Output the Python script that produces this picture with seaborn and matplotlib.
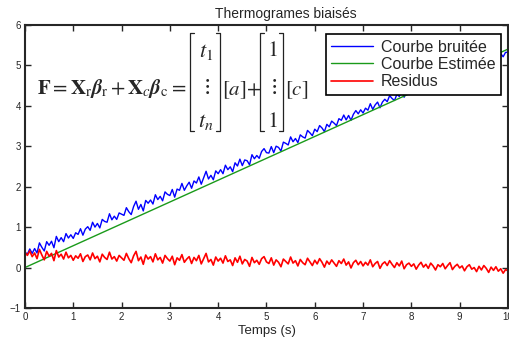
import numpy as np
import pandas as pd
import matplotlib
matplotlib.use('Agg')
import matplotlib.pyplot as plt
from matplotlib.lines import Line2D
import seaborn as sns

# Temps (s), 201 samples from 0 to 10
temps = np.linspace(0, 10, 201)

courbe_bruitee = [
    0.38, 0.33, 0.46, 0.35, 0.47, 0.36, 0.61, 0.50, 0.41, 0.64, 0.55, 0.65, 0.49, 0.77, 0.64, 0.74, 0.64, 0.84, 0.73, 0.81, 0.72,
    0.86, 0.82, 0.96, 0.80, 0.95, 1.01, 0.92, 1.12, 1.00, 1.09, 0.98, 1.19, 1.14, 1.12, 1.33, 1.18, 1.27, 1.19, 1.35, 1.32,
    1.29, 1.48, 1.38, 1.31, 1.51, 1.64, 1.44, 1.56, 1.40, 1.66, 1.59, 1.67, 1.57, 1.80, 1.68, 1.76, 1.65, 1.87, 1.81, 1.78,
    1.93, 1.74, 1.94, 1.91, 2.08, 1.91, 2.02, 2.11, 1.96, 2.14, 2.09, 2.24, 2.06, 2.22, 2.38, 2.19, 2.28, 2.17, 2.39, 2.32,
    2.42, 2.32, 2.53, 2.42, 2.49, 2.37, 2.59, 2.51, 2.68, 2.52, 2.66, 2.64, 2.54, 2.79, 2.69, 2.77, 2.70, 2.87, 2.94, 2.84,
    2.83, 2.99, 2.84, 3.00, 2.97, 2.88, 3.10, 3.07, 3.03, 3.23, 3.11, 3.19, 3.09, 3.28, 3.23, 3.20, 3.39, 3.33, 3.26, 3.42,
    3.36, 3.51, 3.45, 3.36, 3.54, 3.48, 3.62, 3.57, 3.51, 3.68, 3.64, 3.77, 3.65, 3.76, 3.64, 3.79, 3.88, 3.80, 3.90, 3.82,
    3.94, 3.89, 4.05, 3.91, 4.02, 4.09, 3.95, 4.09, 4.16, 4.10, 4.25, 4.18, 4.13, 4.28, 4.23, 4.37, 4.21, 4.34, 4.40, 4.35,
    4.44, 4.33, 4.46, 4.56, 4.47, 4.56, 4.49, 4.65, 4.60, 4.53, 4.69, 4.66, 4.77, 4.67, 4.78, 4.87, 4.73, 4.84, 4.91, 4.85,
    4.93, 4.83, 4.96, 5.04, 4.96, 5.02, 4.95, 5.11, 5.04, 5.18, 5.14, 5.06, 5.22, 5.17, 5.29, 5.20, 5.29, 5.21, 5.32, 5.32,
]

residus = [
    0.38, 0.30, 0.41, 0.27, 0.36, 0.22, 0.45, 0.31, 0.19, 0.40, 0.28, 0.35, 0.17, 0.42, 0.26, 0.33, 0.21, 0.38, 0.24, 0.30, 0.18,
    0.29, 0.23, 0.34, 0.15, 0.27, 0.31, 0.19, 0.36, 0.22, 0.28, 0.14, 0.33, 0.25, 0.20, 0.38, 0.21, 0.27, 0.16, 0.30, 0.24,
    0.18, 0.35, 0.22, 0.12, 0.29, 0.40, 0.17, 0.26, 0.08, 0.31, 0.21, 0.27, 0.14, 0.34, 0.19, 0.25, 0.11, 0.30, 0.22, 0.16,
    0.28, 0.07, 0.24, 0.18, 0.32, 0.13, 0.21, 0.27, 0.10, 0.25, 0.17, 0.30, 0.09, 0.22, 0.35, 0.14, 0.20, 0.06, 0.26, 0.16,
    0.23, 0.11, 0.29, 0.15, 0.19, 0.05, 0.24, 0.13, 0.28, 0.09, 0.20, 0.16, 0.03, 0.25, 0.12, 0.18, 0.08, 0.22, 0.27, 0.14,
    0.10, 0.24, 0.06, 0.19, 0.13, 0.02, 0.21, 0.15, 0.09, 0.26, 0.11, 0.17, 0.04, 0.20, 0.12, 0.07, 0.23, 0.14, 0.05, 0.18,
    0.09, 0.22, 0.13, 0.01, 0.16, 0.08, 0.19, 0.11, 0.03, 0.17, 0.10, 0.21, 0.06, 0.14, -0.01, 0.12, 0.18, 0.07, 0.15, 0.04,
    0.13, 0.06, 0.19, 0.02, 0.10, 0.15, -0.02, 0.09, 0.14, 0.05, 0.17, 0.08, 0.00, 0.12, 0.04, 0.16, -0.03, 0.07, 0.11, 0.03,
    0.09, -0.04, 0.06, 0.13, 0.01, 0.08, -0.02, 0.11, 0.04, -0.06, 0.07, 0.02, 0.10, -0.03, 0.05, 0.12, -0.05, 0.03, 0.08, -0.01,
    0.04, -0.08, 0.02, 0.07, -0.04, 0.00, -0.10, 0.03, -0.06, 0.05, -0.02, -0.12, 0.01, -0.07, 0.02, -0.09, -0.03, -0.14, -0.05, -0.08,
]

# fitted straight line (end points)
temps_estime = [0, 10]
courbe_estimee = [0.0, 5.4]

W, H = 509, 342

def px(x, y):
    # pixel position -> figure fraction
    return x / W, 1 - y / H

sns.set_style('ticks')
plt.rcParams['font.family'] = ['Liberation Sans', 'DejaVu Sans']
plt.rcParams['mathtext.fontset'] = 'stix'

fig = plt.figure(figsize=(W / 100, H / 100), dpi=100)
ax = fig.add_axes([0.049, 0.0994, 0.949, 0.828])

sns.lineplot(x=temps, y=courbe_bruitee, color='#0000ff', lw=1, ax=ax, label='Courbe bruitée')
sns.lineplot(x=temps_estime, y=courbe_estimee, color='#1a9a1a', lw=1, ax=ax, label='Courbe Estimée')
sns.lineplot(x=temps, y=residus, color='#ff0000', lw=1.2, ax=ax, label='Residus')

ax.set_xlim(0, 10)
ax.set_ylim(-1, 6)
ax.set_xticks(range(0, 11))
ax.set_yticks(range(-1, 7))
ax.tick_params(direction='in', top=True, right=True, length=4, width=1, labelsize=7, pad=3)
for s in ax.spines.values():
    s.set_linewidth(1.5)
    s.set_visible(True)

ax.set_title('Thermogrames biaisés', fontsize=10, pad=5, x=0.54)
ax.set_xlabel('Temps (s)', fontsize=9.5, labelpad=2)

leg = ax.legend(loc='upper right', bbox_to_anchor=px(501, 34), bbox_transform=fig.transFigure,
                fontsize=11.5, frameon=True, fancybox=False, edgecolor='black', framealpha=1,
                borderaxespad=0, handlelength=2.6, handletextpad=0.5,
                labelspacing=0.15, borderpad=0.35)
leg.get_frame().set_linewidth(1.2)

# equation F = Xr.br + Xc.bc = [t1..tn][a] + [1..1][c]
fs = 16
lhs = (r'$\mathbf{F}{=}\mathbf{X}_{\mathrm{r}}\boldsymbol{\beta}_{\mathrm{r}}\,{+}\,'
       r'\mathbf{X}_{c}\boldsymbol{\beta}_{\mathrm{c}}{=}$')
fig.text(*px(37, 94), lhs, fontsize=15, ha='left', va='baseline')


def bracket_matrix(x0, x1, top, bot, items):
    for xb, d in ((x0, 4), (x1, -4)):
        xs = [xb + d, xb, xb, xb + d]
        ys = [top, top, bot, bot]
        fx = [px(a, b)[0] for a, b in zip(xs, ys)]
        fy = [px(a, b)[1] for a, b in zip(xs, ys)]
        fig.add_artist(Line2D(fx, fy, color='#222222', lw=0.9, transform=fig.transFigure))
    xc = (x0 + x1) / 2 + 1
    for yc, s in zip((51, 86, 121), items):
        fig.text(*px(xc, yc), s, fontsize=fs, ha='center', va='center')


bracket_matrix(190, 220, 33, 131, [r'$t_1$', r'$\vdots$', r'$t_n$'])
fig.text(*px(222, 95), r'$[a]$', fontsize=15, ha='left', va='baseline')
fig.text(*px(246.5, 95), r'$+$', fontsize=15, ha='left', va='baseline')
bracket_matrix(260, 283, 33, 131, [r'$1$', r'$\vdots$', r'$1$'])
fig.text(*px(285, 95), r'$[c]$', fontsize=15, ha='left', va='baseline')

fig.savefig('out.png', dpi=100)
